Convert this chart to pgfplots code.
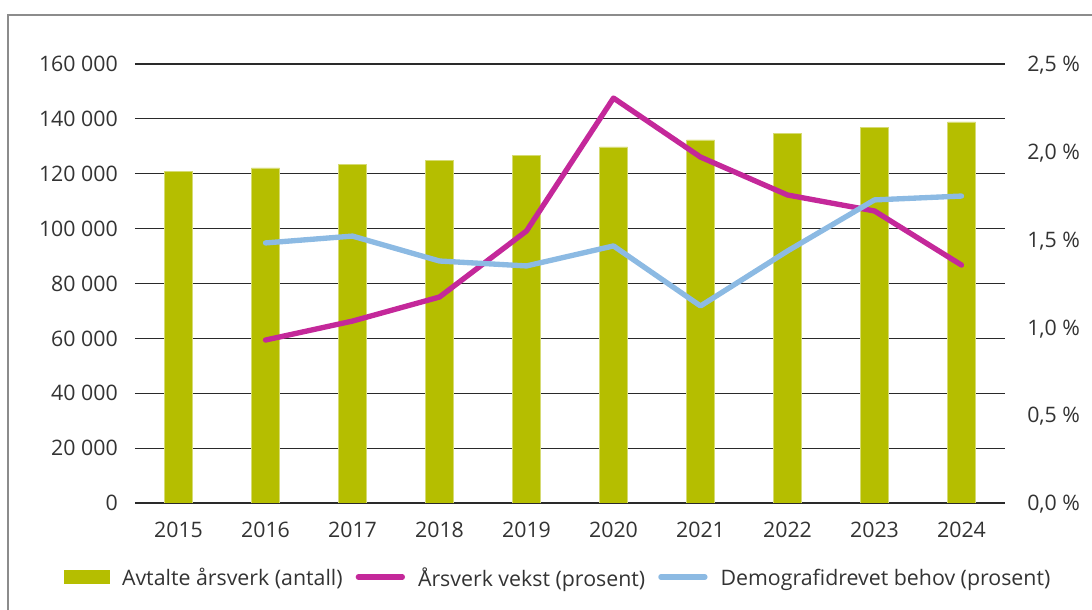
\documentclass[border=0pt]{standalone}
\usepackage{pgfplots}
\pgfplotsset{compat=1.18}
\usepackage{fontspec}
\setmainfont{Open Sans}
\definecolor{cBar}{HTML}{B5BE00}
\definecolor{cVekst}{HTML}{C4289A}
\definecolor{cBehov}{HTML}{8CBAE3}
\definecolor{cText}{HTML}{333333}
\definecolor{cGrid}{HTML}{2A2A2A}
\definecolor{cFrame}{HTML}{8C8C8C}

\pgfplotsset{
  base/.style={
    width=652.5pt, height=329.25pt, scale only axis,
    at={(0pt,0pt)}, anchor=south west,
    xmin=-0.5, xmax=9.5,
    axis line style={draw=none},
    major tick length=0pt,
    scaled ticks=false,
    tick label style={font=\fontsize{16}{19}\selectfont, text=cText, inner sep=0pt, text depth=0pt},
  },
}

\begin{document}
\begin{tikzpicture}

% venstre akse: avtalte årsverk
\begin{axis}[
  base,
  ymin=0, ymax=160000,
  ytick={0,20000,40000,60000,80000,100000,120000,140000,160000},
  yticklabels={0,20\ 000,40\ 000,60\ 000,80\ 000,100\ 000,120\ 000,140\ 000,160\ 000},
  yticklabel style={anchor=east, xshift=-12.75pt},
  xtick={0,...,9},
  xticklabels={2015,2016,2017,2018,2019,2020,2021,2022,2023,2024},
  xticklabel style={anchor=north, yshift=-14pt},
  ymajorgrids, grid style={cGrid, line width=0.8pt},
  ybar, bar width=21pt,
]
\addplot[fill=cBar, draw=cBar!55!white, line width=0.5pt] coordinates {
  (0,121000)(1,122100)(2,123550)(3,125000)(4,126800)
  (5,129750)(6,132300)(7,134850)(8,137000)(9,138860)
};
\end{axis}

% høyre akse: prosent
\begin{axis}[
  base,
  ymin=0, ymax=2.5,
  axis y line*=right,
  axis x line=none,
  ytick={0,0.5,1,1.5,2,2.5},
  yticklabels={{0,0 \%},{0,5 \%},{1,0 \%},{1,5 \%},{2,0 \%},{2,5 \%}},
  yticklabel style={anchor=west, xshift=16.5pt},
  legend columns=3,
  legend style={at={(0.485,-0.1686)}, anchor=center, draw=none, fill=none,
    font=\fontsize{16}{19}\selectfont, text=cText,
    nodes={inner sep=0pt, text depth=0pt}, column sep=9.75pt},
]
\addlegendimage{legend image code/.code={\fill[cBar] (0pt,-4.8pt) rectangle (33.75pt,4.8pt);}}
\addlegendentry{Avtalte årsverk (antall)\hspace{6pt}}

\addplot[cVekst, line width=4pt, line cap=round, line join=round,
  legend image code/.code={\draw[cVekst, line width=4pt, line cap=round] (2pt,0pt) -- (35pt,0pt);}]
  coordinates {
  (1,0.928)(2,1.036)(3,1.173)(4,1.549)(5,2.306)
  (6,1.970)(7,1.754)(8,1.663)(9,1.355)
};
\addlegendentry{Årsverk vekst (prosent)\hspace{6pt}}

\addplot[cBehov, line width=4pt, line cap=round, line join=round,
  legend image code/.code={\draw[cBehov, line width=4pt, line cap=round] (2pt,0pt) -- (35pt,0pt);}]
  coordinates {
  (1,1.481)(2,1.520)(3,1.378)(4,1.350)(5,1.464)
  (6,1.122)(7,1.435)(8,1.726)(9,1.748)
};
\addlegendentry{Demografidrevet behov (prosent)}
\end{axis}

% ramme rundt figuren (bare venstre og øvre kant synlig)
\draw[cFrame, line width=1pt] (-95.25pt,-80.25pt) -- (-95.25pt,366pt) -- (717.75pt,366pt);
\pgfresetboundingbox
\path[use as bounding box] (-101.25pt,-80.25pt) rectangle (717.75pt,377.25pt);
\end{tikzpicture}
\end{document}
